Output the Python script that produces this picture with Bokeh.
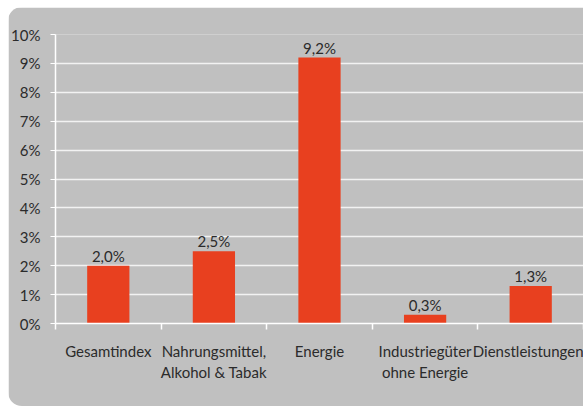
from bokeh.plotting import figure
from bokeh.models import ColumnDataSource, FixedTicker, PrintfTickFormatter, Range1d, InlineStyleSheet
from bokeh.core.properties import value
from bokeh.embed import file_html
from bokeh.resources import INLINE

categories = ["Gesamtindex", "Nahrungsmittel,\nAlkohol & Tabak", "Energie",
              "Industriegüter\nohne Energie", "Dienstleistungen"]
values = [2.0, 2.5, 9.2, 0.3, 1.3]
y_ticks = [0, 1, 2, 3, 4, 5, 6, 7, 8, 9, 10]

FONT = "Lato"
BG = "#c0c0c0"
TXT = "#2b2b2b"

n = len(categories)
xs = [i + 0.5 for i in range(n)]
labels = [f"{v:.1f}%".replace(".", ",") for v in values]
src = ColumnDataSource(dict(x=xs, v=values, lab=labels))

p = figure(width=575, height=399, output_backend="svg", toolbar_location=None,
           x_range=Range1d(0, n), y_range=Range1d(0, 10),
           min_border_left=45, min_border_right=0, min_border_top=27, min_border_bottom=83)
p.stylesheets = [InlineStyleSheet(css=":host { margin: 7px 0 0 8px; border-radius: 14px 0 0 14px; overflow: hidden; }")]
p.background_fill_color = BG
p.border_fill_color = BG
p.outline_line_color = None

p.vbar(x="x", top="v", width=0.4, bottom=0, source=src, color="#E8401F", line_color=None)
p.text(x="x", y="v", text="lab", source=src, text_align="center", text_baseline="bottom",
       y_offset=-1, text_font=value(FONT), text_font_size="15px", text_color=TXT)

# y axis
p.yaxis.ticker = FixedTicker(ticks=y_ticks)
p.yaxis.formatter = PrintfTickFormatter(format="%d%%")
p.yaxis.axis_line_color = "white"
p.yaxis.axis_line_width = 1.5
p.yaxis.major_tick_line_color = "white"
p.yaxis.major_tick_out = 5
p.yaxis.major_tick_in = 0
p.yaxis.minor_tick_line_color = None
p.yaxis.major_label_standoff = 10
p.yaxis.major_label_text_font = FONT
p.yaxis.major_label_text_font_size = "15px"
p.yaxis.major_label_text_color = TXT

# x axis
p.xaxis.ticker = FixedTicker(ticks=xs, minor_ticks=list(range(n + 1)))
p.xaxis.major_label_overrides = {x: c for x, c in zip(xs, categories)}
p.xaxis.axis_line_color = "white"
p.xaxis.axis_line_width = 1.5
p.xaxis.major_tick_line_color = None
p.xaxis.minor_tick_line_color = "white"
p.xaxis.minor_tick_line_width = 1.5
p.xaxis.minor_tick_out = 6
p.xaxis.minor_tick_in = 0
p.xaxis.major_label_standoff = 12
p.xaxis.major_label_text_font = FONT
p.xaxis.major_label_text_font_size = "15px"
p.xaxis.major_label_text_color = TXT

p.xgrid.grid_line_color = None
p.ygrid.grid_line_color = "#f2f2f2"
p.ygrid.grid_line_width = 1.5

open("out.html", "w").write(file_html(p, INLINE))
